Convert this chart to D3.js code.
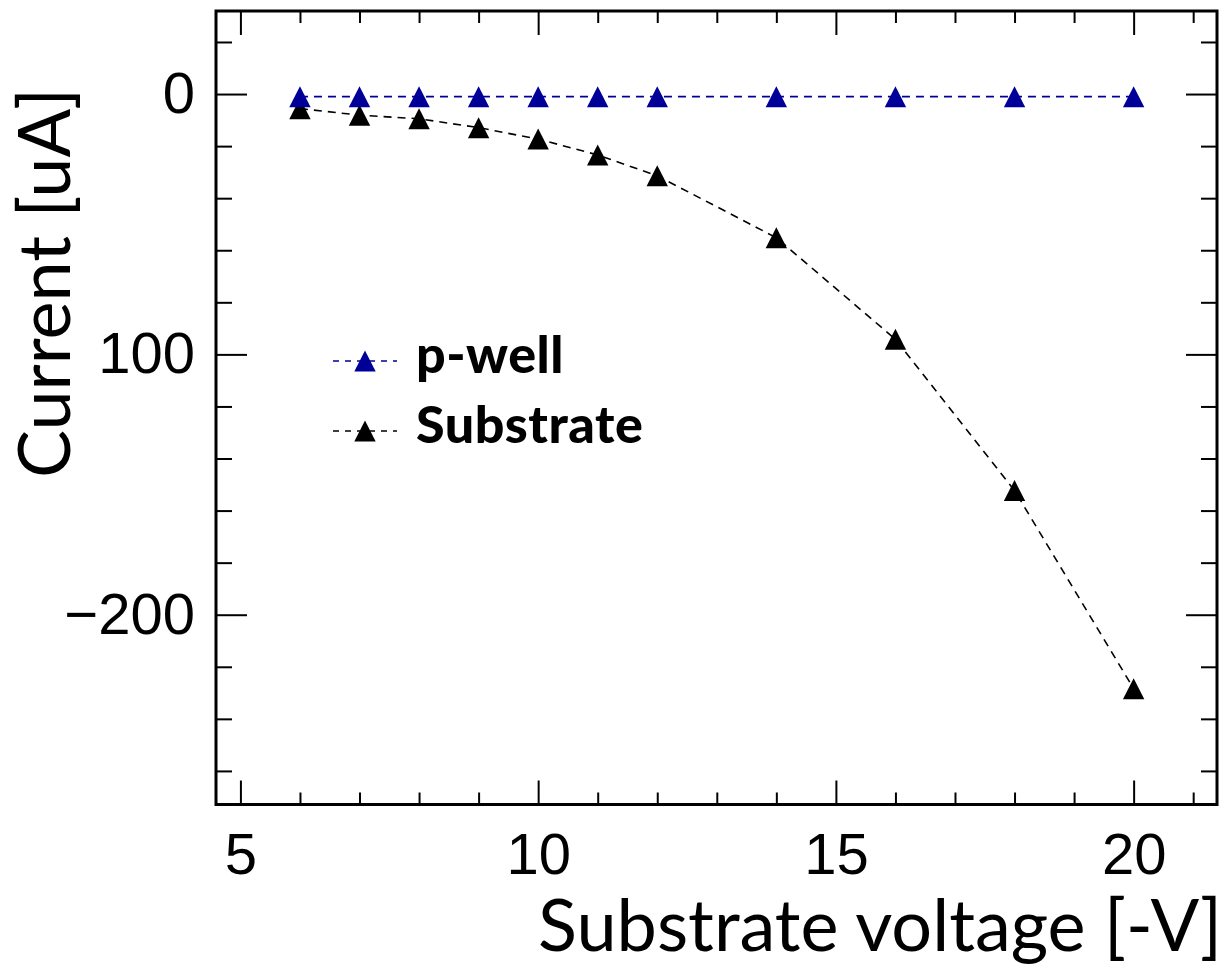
<!DOCTYPE html>
<head>
  <title>Current vs substrate voltage</title>
  <style>
    body { margin: 0; background: #fff; }
    .frame { fill: none; stroke: #000; stroke-width: 3; }
    .ax path { display: none; }
    .ax line { stroke: #000; stroke-width: 2; }
    .ax text { font-family: "Liberation Sans", Arial, sans-serif; font-size: 58px; fill: #000; }
    .title { font-family: Lato, "Open Sans", sans-serif; font-size: 72px; fill: #000; }
    .leg { font-family: Lato, "Open Sans", sans-serif; font-size: 52px; font-weight: 900; fill: #000; letter-spacing: 0.5px; }
  </style>
</head>
<body>
<script src="https://cdn.jsdelivr.net/npm/d3@7/dist/d3.min.js"></script>
<script>
  // data
  var voltage = [6, 7, 8, 9, 10, 11, 12, 14, 16, 18, 20];
  var pwell = [-1, -1, -1, -1, -1, -1, -1, -1, -1, -1, -1];
  var substrate = [-5.6, -8.1, -9.5, -12.9, -17.3, -23.4, -31.4, -55.2, -94.2, -152.3, -228.4];
  var seriesNames = ["p-well", "Substrate"];
  var seriesColors = ["#000099", "#000000"];

  var xMajor = [5, 10, 15, 20];
  var xTickLabels = ["5", "10", "15", "20"];
  var yMajor = [0, -100, -200];
  var yTickLabels = ["0", "100", "\u2212200"];

  // frame geometry
  var svg_width = 1231, svg_height = 970;
  var left = 216, right = 1217, top_ = 11, bottom = 804.5;

  var svg = d3.select("body")
    .append("svg")
    .attr("width", svg_width)
    .attr("height", svg_height);

  var x = d3.scaleLinear().domain([4.59, 21.40]).range([left, right]);
  var y = d3.scaleLinear().domain([31.9, -272.9]).range([top_, bottom]);

  var xMinor = d3.range(5, 22, 1).filter(function(v) { return xMajor.indexOf(v) < 0; });
  var yMinor = d3.range(20, -280, -20).filter(function(v) { return yMajor.indexOf(v) < 0; });

  function fmt(values, labels) {
    return function(d) { return labels[values.indexOf(d)]; };
  }

  // bottom axis (ticks pointing in)
  svg.append("g").attr("class", "ax")
    .attr("transform", "translate(0," + bottom + ")")
    .call(d3.axisBottom(x).tickValues(xMajor).tickSizeInner(-24).tickSizeOuter(0)
      .tickPadding(28).tickFormat(fmt(xMajor, xTickLabels)));
  svg.append("g").attr("class", "ax")
    .attr("transform", "translate(0," + bottom + ")")
    .call(d3.axisBottom(x).tickValues(xMinor).tickSizeInner(-12).tickSizeOuter(0).tickFormat(""));
  // top mirror
  svg.append("g").attr("class", "ax")
    .attr("transform", "translate(0," + top_ + ")")
    .call(d3.axisTop(x).tickValues(xMajor).tickSizeInner(-24).tickSizeOuter(0).tickFormat(""));
  svg.append("g").attr("class", "ax")
    .attr("transform", "translate(0," + top_ + ")")
    .call(d3.axisTop(x).tickValues(xMinor).tickSizeInner(-12).tickSizeOuter(0).tickFormat(""));

  // left axis
  svg.append("g").attr("class", "ax")
    .attr("transform", "translate(" + left + ",0)")
    .call(d3.axisLeft(y).tickValues(yMajor).tickSizeInner(-31).tickSizeOuter(0)
      .tickPadding(21).tickFormat(fmt(yMajor, yTickLabels)));
  svg.append("g").attr("class", "ax")
    .attr("transform", "translate(" + left + ",0)")
    .call(d3.axisLeft(y).tickValues(yMinor).tickSizeInner(-16).tickSizeOuter(0).tickFormat(""));
  // right mirror
  svg.append("g").attr("class", "ax")
    .attr("transform", "translate(" + right + ",0)")
    .call(d3.axisRight(y).tickValues(yMajor).tickSizeInner(-31).tickSizeOuter(0).tickFormat(""));
  svg.append("g").attr("class", "ax")
    .attr("transform", "translate(" + right + ",0)")
    .call(d3.axisRight(y).tickValues(yMinor).tickSizeInner(-16).tickSizeOuter(0).tickFormat(""));

  svg.append("rect").attr("class", "frame")
    .attr("x", left).attr("y", top_)
    .attr("width", right - left).attr("height", bottom - top_);

  // triangle marker, bbox centred on the point
  var tri = "M0,-10.5L10.7,10.5L-10.7,10.5Z";

  var line = d3.line()
    .x(function(d) { return x(d[0]); })
    .y(function(d) { return y(d[1]); });

  [pwell, substrate].forEach(function(vals, k) {
    var pts = voltage.map(function(v, i) { return [v, vals[i]]; });
    svg.append("path")
      .datum(pts)
      .attr("d", line)
      .attr("fill", "none")
      .attr("stroke", seriesColors[k])
      .attr("stroke-width", 1.6)
      .attr("stroke-dasharray", "8,6");
  });
  // markers: substrate first so p-well sits on top
  [substrate, pwell].forEach(function(vals, k) {
    var col = k == 0 ? seriesColors[1] : seriesColors[0];
    svg.selectAll(null)
      .data(voltage.map(function(v, i) { return [v, vals[i]]; }))
      .enter()
      .append("path")
      .attr("d", tri)
      .attr("fill", col)
      .attr("transform", function(d) { return "translate(" + x(d[0]) + "," + y(d[1]) + ")"; });
  });

  // legend
  var legY = [361, 431];
  seriesNames.forEach(function(name, i) {
    svg.append("line")
      .attr("x1", 333).attr("x2", 397)
      .attr("y1", legY[i]).attr("y2", legY[i])
      .attr("stroke", seriesColors[i])
      .attr("stroke-width", 1.3)
      .attr("stroke-dasharray", "6,6");
    svg.append("path")
      .attr("d", tri)
      .attr("fill", seriesColors[i])
      .attr("transform", "translate(365," + legY[i] + ")");
    svg.append("text")
      .attr("class", "leg")
      .attr("x", 416)
      .attr("y", legY[i] + 12)
      .text(name);
  });

  // axis titles
  svg.append("text")
    .attr("class", "title")
    .attr("x", 1222)
    .attr("y", 951)
    .attr("text-anchor", "end")
    .text("Substrate voltage [-V]");

  svg.append("text")
    .attr("class", "title")
    .attr("transform", "translate(70,88) rotate(-90)")
    .attr("text-anchor", "end")
    .text("Current [uA]");
</script>
</body>
